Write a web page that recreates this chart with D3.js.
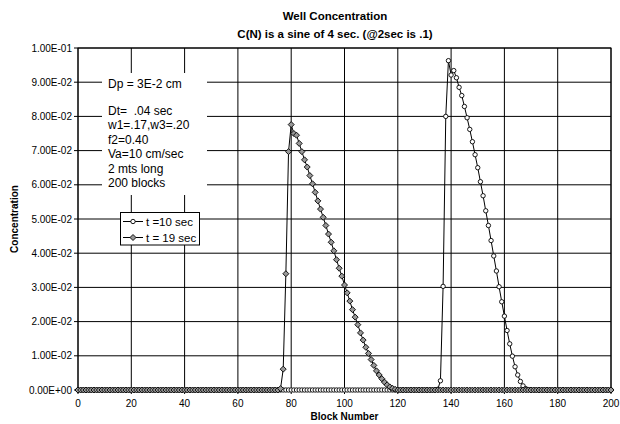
<!DOCTYPE html>
<html>
<head>
<meta charset="utf-8">
<script src="https://cdn.jsdelivr.net/npm/d3@7"></script>
<style>
  body { margin: 0; background: #fff; }
  text { font-family: "Liberation Sans", Arial, sans-serif; white-space: pre; }
</style>
</head>
<body>
<div id="chart"></div>
<script>
// block numbers on the x axis
var blocks = d3.range(0, 201);
var xTicks = [0, 20, 40, 60, 80, 100, 120, 140, 160, 180, 200];
var yTicks = [0, 0.01, 0.02, 0.03, 0.04, 0.05, 0.06, 0.07, 0.08, 0.09, 0.1];

// t = 10 sec : values from block 135 on, zero everywhere else
var t10Start = 135;
var t10Values = [0.0002, 0.0027, 0.0303, 0.0800, 0.0963, 0.0921, 0.0934, 0.0913, 0.0885, 0.0861,
  0.0829, 0.0796, 0.0762, 0.0726, 0.0688, 0.0650, 0.0609, 0.0568, 0.0524, 0.0481,
  0.0437, 0.0392, 0.0348, 0.0302, 0.0258, 0.0216, 0.0174, 0.0135, 0.0099, 0.0068,
  0.0044, 0.0025, 0.0012, 0.0004, 0.0001];

// t = 19 sec : values from block 76 on, zero everywhere else
var t19Start = 76;
var t19Values = [0.0004, 0.0061, 0.0340, 0.0697, 0.0776, 0.0750, 0.0745, 0.0721, 0.0697, 0.0673,
  0.0652, 0.0627, 0.0603, 0.0578, 0.0553, 0.0529, 0.0505, 0.0481, 0.0456, 0.0432,
  0.0407, 0.0381, 0.0356, 0.0333, 0.0307, 0.0284, 0.0260, 0.0235, 0.0213, 0.0191,
  0.0167, 0.0146, 0.0125, 0.0107, 0.0089, 0.0072, 0.0056, 0.0044, 0.0033, 0.0023,
  0.0015, 0.0009, 0.0005, 0.0002];

var notes = ["Dt=  .04 sec", "w1=.17,w3=.20", "f2=0.40", "Va=10 cm/sec", "2 mts long", "200 blocks"];

function series(start, vals) {
  return blocks.map(function(b) {
    var i = b - start;
    return {b: b, v: (i >= 0 && i < vals.length) ? vals[i] : 0};
  });
}
var s10 = series(t10Start, t10Values),
    s19 = series(t19Start, t19Values);

var width = 620, height = 424;
var svg = d3.select("#chart").append("svg")
    .attr("width", width)
    .attr("height", height);

var x = d3.scaleLinear().domain([0, 200]).range([78, 611]);
var y = d3.scaleLinear().domain([0, 0.1]).range([390, 48]);

function sci(v) {
  var s = v.toExponential(2).split("e");
  var e = +s[1];
  return s[0] + "E" + (e < 0 ? "-" : "+") + (Math.abs(e) < 10 ? "0" : "") + Math.abs(e);
}

// grid
svg.append("g").selectAll("line")
  .data(yTicks)
  .enter().append("line")
    .attr("x1", x(0) - 4).attr("x2", x(200))
    .attr("y1", function(d) { return y(d); })
    .attr("y2", function(d) { return y(d); })
    .attr("stroke", "#000");
svg.append("g").selectAll("line")
  .data(xTicks)
  .enter().append("line")
    .attr("x1", function(d) { return x(d); })
    .attr("x2", function(d) { return x(d); })
    .attr("y1", y(0.1)).attr("y2", y(0) + 4)
    .attr("stroke", "#000");

svg.append("rect")
    .attr("x", x(0)).attr("y", y(0.1))
    .attr("width", x(200) - x(0)).attr("height", y(0) - y(0.1))
    .attr("fill", "none").attr("stroke", "#000");

// tick labels
svg.append("g").selectAll("text")
  .data(yTicks)
  .enter().append("text")
    .attr("x", 72)
    .attr("y", function(d) { return y(d); })
    .attr("dy", "0.35em")
    .attr("text-anchor", "end")
    .style("font-size", "10px")
    .text(sci);
svg.append("g").selectAll("text")
  .data(xTicks)
  .enter().append("text")
    .attr("x", function(d) { return x(d); })
    .attr("y", 407)
    .attr("text-anchor", "middle")
    .style("font-size", "10px")
    .text(function(d) { return d; });

// titles
svg.append("text").attr("x", 335).attr("y", 19.5).attr("text-anchor", "middle")
    .style("font-size", "11.5px").style("font-weight", "bold").text("Well Concentration");
svg.append("text").attr("x", 335).attr("y", 37.5).attr("text-anchor", "middle")
    .style("font-size", "11.5px").style("font-weight", "bold").text("C(N) is a sine of 4 sec. (@2sec is .1)");
svg.append("text").attr("x", (x(0) + x(200)) / 2).attr("y", 420).attr("text-anchor", "middle")
    .style("font-size", "10px").style("font-weight", "bold").text("Block Number");
svg.append("text").attr("transform", "translate(18," + (y(0.05)) + ") rotate(-90)")
    .attr("text-anchor", "middle")
    .style("font-size", "10px").style("font-weight", "bold").text("Concentration");

// note box
svg.append("rect").attr("x", 102).attr("y", 73).attr("width", 105).attr("height", 122).attr("fill", "#fff");
svg.append("text").attr("x", 108).attr("y", 87.5).style("font-size", "12px").text("Dp = 3E-2 cm");
svg.append("g").selectAll("text")
  .data(notes)
  .enter().append("text")
    .attr("x", 108)
    .attr("y", function(d, i) { return 115 + i * 14.4; })
    .style("font-size", "12px")
    .text(function(d) { return d; });

var diamond = "M0,-3L3,0L0,3L-3,0Z";

var line = d3.line()
    .x(function(d) { return x(d.b); })
    .y(function(d) { return y(d.v); });

// t = 10 sec
svg.append("path").datum(s10)
    .attr("d", line).attr("fill", "none").attr("stroke", "#000").attr("stroke-width", 1);
svg.append("g").selectAll("circle")
  .data(s10)
  .enter().append("circle")
    .attr("cx", function(d) { return x(d.b); })
    .attr("cy", function(d) { return y(d.v); })
    .attr("r", 2.2)
    .attr("fill", "#fff").attr("stroke", "#000").attr("stroke-width", 0.9);

// t = 19 sec
svg.append("path").datum(s19)
    .attr("d", line).attr("fill", "none").attr("stroke", "#000").attr("stroke-width", 1);
svg.append("g").selectAll("path")
  .data(s19)
  .enter().append("path")
    .attr("transform", function(d) { return "translate(" + x(d.b) + "," + y(d.v) + ")"; })
    .attr("d", diamond)
    .attr("fill", "#999").attr("stroke", "#000").attr("stroke-width", 0.9);

// legend
var lg = svg.append("g");
lg.append("rect").attr("x", 120.5).attr("y", 212.5).attr("width", 79).attr("height", 32.5)
    .attr("fill", "#fff").attr("stroke", "#000");
lg.append("line").attr("x1", 123).attr("x2", 143).attr("y1", 221.5).attr("y2", 221.5).attr("stroke", "#000");
lg.append("circle").attr("cx", 133).attr("cy", 221.5).attr("r", 2.2)
    .attr("fill", "#fff").attr("stroke", "#000").attr("stroke-width", 0.9);
lg.append("text").attr("x", 146).attr("y", 225.5).style("font-size", "11.5px").text("t =10 sec");
lg.append("line").attr("x1", 123).attr("x2", 143).attr("y1", 237.5).attr("y2", 237.5).attr("stroke", "#000");
lg.append("path").attr("transform", "translate(133,237.5)").attr("d", diamond)
    .attr("fill", "#999").attr("stroke", "#000").attr("stroke-width", 0.9);
lg.append("text").attr("x", 146).attr("y", 241.5).style("font-size", "11.5px").text("t = 19 sec");
</script>
</body>
</html>
